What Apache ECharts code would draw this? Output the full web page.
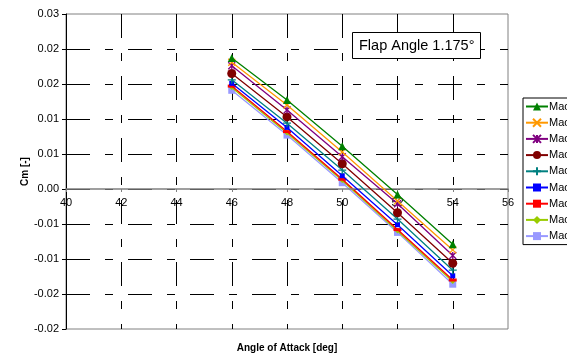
<!DOCTYPE html>
<html>
<head>
<meta charset="utf-8">
<script src="https://cdn.jsdelivr.net/npm/echarts@6/dist/echarts.min.js"></script>
<style>
  html, body { margin: 0; padding: 0; background: #fff; }
  #chart { width: 567px; height: 358px; }
</style>
</head>
<body>
<div id="chart"></div>
<script>
// angle of attack [deg]
const aoa = [46, 48, 50, 52, 54];

// Cm values, one array per legend entry
const mach1 = [0.0187, 0.0127, 0.0061, -0.0008, -0.0079];
const mach2 = [0.0181, 0.0120, 0.0053, -0.0017, -0.0087];
const mach3 = [0.0176, 0.0113, 0.0046, -0.0021, -0.0095];
const mach4 = [0.0165, 0.0103, 0.0036, -0.0034, -0.0106];
const mach5 = [0.0156, 0.0094, 0.0027, -0.0043, -0.0116];
const mach6 = [0.0151, 0.0088, 0.0019, -0.0051, -0.0124];
const mach7 = [0.0147, 0.0082, 0.0014, -0.0058, -0.0130];
const mach8 = [0.0145, 0.0080, 0.0012, -0.0060, -0.0132];
const mach9 = [0.0141, 0.0077, 0.0009, -0.0062, -0.0136];

const seriesNames = ['Mach 0.10', 'Mach 0.20', 'Mach 0.30', 'Mach 0.40', 'Mach 0.50',
                     'Mach 0.60', 'Mach 0.70', 'Mach 0.80', 'Mach 0.90'];
const seriesValues = [mach1, mach2, mach3, mach4, mach5, mach6, mach7, mach8, mach9];

// axis ranges
const xMin = 40, xMax = 56, xStep = 2;
const yMin = -0.02, yMax = 0.025, yStep = 0.005;

const colors = ['#008000', '#FF9900', '#800080', '#800000', '#008080',
                '#0000FF', '#FF0000', '#99CC00', '#9999FF'];

// marker for each series
const symbols = [
  { symbol: 'triangle', size: 8 },
  { symbol: 'path://M0,0L10,10M10,0L0,10', size: 7, stroke: true },
  { symbol: 'path://M0,0L10,10M10,0L0,10M5,0L5,10', size: 7, stroke: true },
  { symbol: 'circle', size: 9 },
  { symbol: 'path://M5,0L5,10M0,5L10,5', size: 8, stroke: true },
  { symbol: 'rect', size: 5 },
  { symbol: 'rect', size: [8, 3] },
  { symbol: 'diamond', size: 5 },
  { symbol: 'rect', size: 7 }
];

const fontFamily = '"Liberation Sans", Arial, sans-serif';
const gridTop = 14, gridHeight = 315;
// distance from the top of the plot down to Cm = 0
const zeroOffset = yMax / (yMax - yMin) * gridHeight;

const gridDash = { color: '#000', type: [24, 15, 8, 15], width: 1 };

function cmLabel(v) {
  // round half away from zero, two decimals
  const r = Math.round(Math.abs(v) * 100 + 1e-9) / 100;
  return (v < 0 && r > 0 ? '-' : '') + r.toFixed(2);
}

const chart = echarts.init(document.getElementById('chart'));

const options = {
  backgroundColor: '#fff',
  animation: false,
  title: [
    {
      text: 'Flap Angle 1.175°',
      left: 352,
      top: 32,
      padding: [6, 6, 6, 7],
      borderColor: '#000',
      borderWidth: 1,
      backgroundColor: '#fff',
      textStyle: { fontFamily, fontSize: 14.5, fontWeight: 'normal', color: '#000' }
    },
    {
      text: 'Angle of Attack [deg]',
      left: 287,
      textAlign: 'center',
      top: 343,
      padding: 0,
      textStyle: { fontFamily, fontSize: 10, fontWeight: 'bold', color: '#000' }
    }
  ],
  legend: {
    orient: 'vertical',
    left: 523,
    top: 98,
    padding: [3, 30, 3, 2],
    borderColor: '#000',
    borderWidth: 1,
    backgroundColor: '#fff',
    itemWidth: 22,
    itemHeight: 10,
    itemGap: 5.2,
    textStyle: { fontFamily, fontSize: 11, color: '#000', padding: [0, 0, 0, -4] },
    data: seriesNames
  },
  grid: {
    left: 66,
    right: 59,
    top: gridTop,
    height: gridHeight,
    show: true,
    borderColor: '#808080',
    borderWidth: 1
  },
  xAxis: [
    {
      // dashed vertical grid lines
      type: 'value',
      min: xMin,
      max: xMax,
      interval: xStep,
      position: 'bottom',
      axisLine: { show: false, onZero: false },
      axisTick: { show: false },
      axisLabel: { show: false },
      splitLine: { show: true, showMinLine: false, showMaxLine: false, lineStyle: gridDash }
    },
    {
      // the visible x axis crossing at Cm = 0
      type: 'value',
      min: xMin,
      max: xMax,
      interval: xStep,
      position: 'top',
      offset: -zeroOffset,
      z: 5,
      axisLine: { show: true, onZero: false, lineStyle: { color: '#808080', width: 1.5 } },
      axisTick: { show: true, inside: true, length: 3, lineStyle: { color: '#808080' } },
      axisLabel: { inside: true, fontFamily, fontSize: 11, color: '#000', margin: 8 },
      splitLine: { show: false }
    }
  ],
  yAxis: {
    type: 'value',
    min: yMin,
    max: yMax,
    interval: yStep,
    name: 'Cm [-]',
    nameLocation: 'middle',
    nameGap: 36,
    nameRotate: 90,
    nameMoveOverlap: false,
    nameTextStyle: { fontFamily, fontSize: 10, fontWeight: 'bold', color: '#000' },
    axisLine: { show: true, lineStyle: { color: '#000', width: 1 } },
    axisTick: { show: true, length: 4, lineStyle: { color: '#000' } },
    axisLabel: { fontFamily, fontSize: 11, color: '#000', margin: 7, formatter: cmLabel },
    splitLine: { show: true, showMinLine: false, showMaxLine: false, lineStyle: gridDash }
  },
  series: seriesNames.map((name, i) => ({
    name: name,
    type: 'line',
    xAxisIndex: 0,
    data: aoa.map((a, j) => [a, seriesValues[i][j]]),
    symbol: symbols[i].symbol,
    symbolSize: symbols[i].size,
    showAllSymbol: true,
    lineStyle: { color: colors[i], width: 1.3 },
    itemStyle: symbols[i].stroke
      ? { color: colors[i], borderColor: colors[i], borderWidth: 1.3 }
      : { color: colors[i], borderWidth: 0 },
    z: 10 - i
  }))
};

chart.setOption(options);
</script>
</body>
</html>
